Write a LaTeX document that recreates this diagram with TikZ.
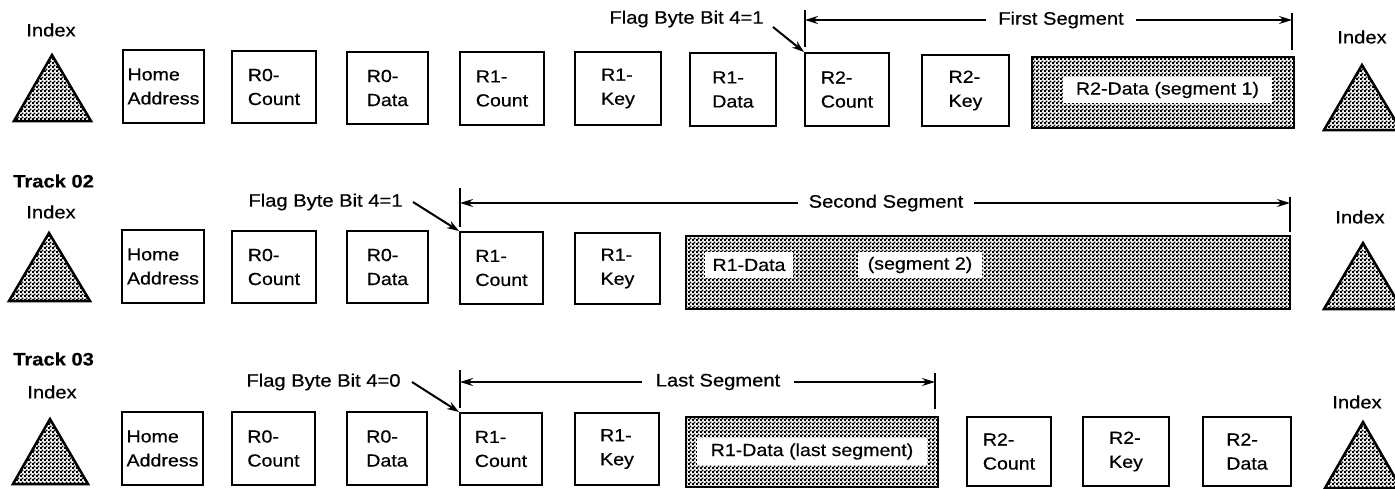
\documentclass[tikz,border=0pt]{standalone}
\usepackage{fontspec}
\setmainfont{Liberation Sans}[FakeStretch=1.12,FakeBold=0.5]
\usetikzlibrary{arrows.meta,patterns}
\pgfdeclarepatternformonly{finechecker}{\pgfpointorigin}{\pgfpoint{4pt}{4pt}}{\pgfpoint{4pt}{4pt}}{%
  \pgfpathrectangle{\pgfpointorigin}{\pgfpoint{2.3pt}{2.3pt}}%
  \pgfpathrectangle{\pgfpoint{2pt}{2pt}}{\pgfpoint{2.3pt}{2.3pt}}%
  \pgfusepath{fill}}
\newcommand\myboxfont{\fontsize{17.5}{24}\selectfont}
\newcommand\mylblfont{\fontsize{18}{22}\selectfont}
\newcommand\recbox[6]{\node[recbox, minimum width={(#3-#2)*1pt}, minimum height={(#5-#4)*1pt}] (#1) at ({(#2+#3)/2},{(#4+#5)/2}) {#6};}
\tikzset{
  recbox/.style={draw, line width=2pt, align=left, inner sep=0pt, font=\myboxfont},
  databox/.style={draw, line width=2pt, pattern=finechecker, inner sep=0pt},
  datalabel/.style={fill=white, inner sep=0pt, font=\myboxfont},
  lbl/.style={font=\mylblfont, inner sep=0pt},
  tracklbl/.style={font=\mylblfont\bfseries, inner sep=0pt, anchor=west},
  tri/.style={draw, line width=2.5pt, pattern=finechecker, line join=miter},
  segbar/.style={line width=1.6pt},
  segline/.style={line width=1.6pt, -{Stealth[length=13pt,width=8pt]}},
  flagarrow/.style={line width=2pt, -{Stealth[length=12pt,width=8pt]}},
}
\begin{document}
\begin{tikzpicture}[x=1pt,y=-1pt]
\fill[white] (0,0) rectangle (1395,488);
\clip (0,0) rectangle (1395,488);

% ---------------- Row 1 ----------------
\node[lbl] (idxL1) at (51,30) {Index};
\draw[tri] (52,55) -- (14,121) -- (91,121) -- cycle;
\node[lbl] (idxR1) at (1362,37) {Index};
\draw[tri] (1362,65) -- (1324,130) -- (1401,130) -- cycle;

\recbox{HA1}{123}{204}{50}{123}{Home\\Address}
\recbox{R0C1}{232}{316}{51}{123}{R0-\\Count}
\recbox{R0D1}{347}{428}{52}{124}{R0-\\Data}
\recbox{R1C1}{460}{544}{52}{125}{R1-\\Count}
\recbox{R1K1}{575}{661}{52}{125}{R1-\\Key}
\recbox{R1D1}{690}{776}{53}{126}{R1-\\Data}
\recbox{R2C1}{805}{889}{53}{126}{R2-\\Count}
\recbox{R2K1}{922}{1009}{55}{126}{R2-\\Key}
\node[databox, minimum width=262pt, minimum height=71pt] (R2D1) at (1163,92.5) {};
\node[datalabel, minimum width=209pt, minimum height=26pt] (R2D1l) at (1167.5,90) {R2-Data (segment 1)};

\node[lbl] (flag1) at (686.5,19) {Flag Byte Bit 4=1};
\coordinate (f1s) at (773,27);
\draw[flagarrow] (f1s) -- (R2C1.north west);

\coordinate (s1lt) at (805,10); \coordinate (s1lb) at (805,47); \coordinate (s1l) at (805,20);
\coordinate (s1rt) at (1292,13); \coordinate (s1rb) at (1292,50); \coordinate (s1r) at (1292,20);
\node[lbl, inner xsep=12pt] (seg1) at (1061,20) {First Segment};
\draw[segbar] (s1lt) -- (s1lb);
\draw[segbar] (s1rt) -- (s1rb);
\draw[segline] (seg1.west) -- (s1l);
\draw[segline] (seg1.east) -- (s1r);

% ---------------- Row 2 ----------------
\node[tracklbl] (trk2) at (13,181) {Track 02};
\node[lbl] (idxL2) at (51,212) {Index};
\draw[tri] (49,233) -- (9,301) -- (90,301) -- cycle;
\node[lbl] (idxR2) at (1360,217) {Index};
\draw[tri] (1363,243) -- (1324,309) -- (1402,309) -- cycle;

\recbox{HA2}{122}{204}{230}{303}{Home\\Address}
\recbox{R0C2}{232}{316}{231}{303}{R0-\\Count}
\recbox{R0D2}{347}{428}{231}{303}{R0-\\Data}
\recbox{R1C2}{460}{543}{232}{304}{R1-\\Count}
\recbox{R1K2}{575}{660}{233}{304}{R1-\\Key}
\node[databox, minimum width=604pt, minimum height=73pt] (R1D2) at (988,272.5) {};
\node[datalabel, minimum width=88pt, minimum height=26pt] (R1D2l) at (749,265) {R1-Data};
\node[datalabel, minimum width=124pt, minimum height=26pt] (R1D2s) at (920,265) {(segment 2)};

\node[lbl] (flag2) at (325.5,202) {Flag Byte Bit 4=1};
\coordinate (f2s) at (413,202);
\draw[flagarrow] (f2s) -- (R1C2.north west);

\coordinate (s2lt) at (460,188); \coordinate (s2lb) at (460,227); \coordinate (s2l) at (460,203);
\coordinate (s2rt) at (1290,197); \coordinate (s2rb) at (1290,232); \coordinate (s2r) at (1290,203);
\node[lbl, inner xsep=10pt] (seg2) at (886,203) {Second Segment};
\draw[segbar] (s2lt) -- (s2lb);
\draw[segbar] (s2rt) -- (s2rb);
\draw[segline] (seg2.west) -- (s2l);
\draw[segline] (seg2.east) -- (s2r);

% ---------------- Row 3 ----------------
\node[tracklbl] (trk3) at (13,359) {Track 03};
\node[lbl] (idxL3) at (52,392) {Index};
\draw[tri] (50,419) -- (13,484) -- (88,484) -- cycle;
\node[lbl] (idxR3) at (1357,402) {Index};
\draw[tri] (1363,422) -- (1325,488) -- (1401,488) -- cycle;

\recbox{HA3}{122}{203}{412}{485}{Home\\Address}
\recbox{R0C3}{232}{315}{412}{485}{R0-\\Count}
\recbox{R0D3}{347}{427}{412}{485}{R0-\\Data}
\recbox{R1C3}{460}{542}{413}{485}{R1-\\Count}
\recbox{R1K3}{575}{659}{413}{485}{R1-\\Key}
\node[databox, minimum width=252pt, minimum height=70pt] (R1D3) at (812,452) {};
\node[datalabel, minimum width=230pt, minimum height=27pt] (R1D3l) at (812,451.5) {R1-Data (last segment)};
\recbox{R2C3}{967}{1051}{417}{486}{R2-\\Count}
\recbox{R2K3}{1083}{1169}{417}{486}{R2-\\Key}
\recbox{R2D3}{1203}{1291}{417}{486}{R2-\\Data}

\node[lbl] (flag3) at (323.5,382) {Flag Byte Bit 4=0};
\coordinate (f3s) at (412,382);
\draw[flagarrow] (f3s) -- (R1C3.north west);

\coordinate (s3lt) at (460,370); \coordinate (s3lb) at (460,408); \coordinate (s3l) at (460,382);
\coordinate (s3rt) at (935,373); \coordinate (s3rb) at (935,409); \coordinate (s3r) at (935,382);
\node[lbl, inner xsep=14pt] (seg3) at (718,382) {Last Segment};
\draw[segbar] (s3lt) -- (s3lb);
\draw[segbar] (s3rt) -- (s3rb);
\draw[segline] (seg3.west) -- (s3l);
\draw[segline] (seg3.east) -- (s3r);
\end{tikzpicture}
\end{document}
